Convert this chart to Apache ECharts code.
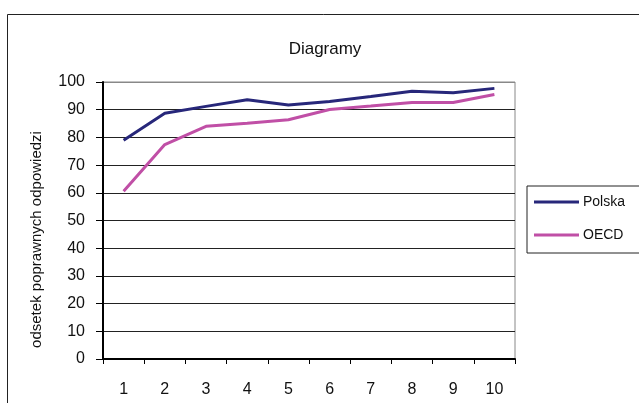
<!DOCTYPE html>
<html><head><meta charset="utf-8">
<script src="https://cdn.jsdelivr.net/npm/echarts@6/dist/echarts.min.js"></script>
<style>html,body{margin:0;padding:0;background:#fff}#c{width:639px;height:403px}</style>
</head><body><div id="c"></div>
<script>
const categories = ['1','2','3','4','5','6','7','8','9','10'];
const polska = [79, 88.7, 91.2, 93.6, 91.7, 93, 94.8, 96.7, 96.1, 97.7];
const oecd = [60.6, 77.4, 84, 85.1, 86.4, 90.1, 91.3, 92.6, 92.6, 95.5];
const seriesNames = ['Polska', 'OECD'];
const yTicks = {min: 0, max: 100, interval: 10};

const font = 'Liberation Sans, Arial, sans-serif';
const chart = echarts.init(document.getElementById('c'), null, {renderer: 'canvas'});
chart.setOption({
  animation: false,
  backgroundColor: '#fff',
  title: {
    text: 'Diagramy', left: 320, top: 36, textAlign: 'center',
    textStyle: {fontFamily: font, fontSize: 17, fontWeight: 'normal', color: '#111'}
  },
  graphic: [{
    type: 'rect', left: 5, top: 12, shape: {width: 700, height: 500},
    style: {fill: 'none', stroke: '#222', lineWidth: 1}, z: -1
  }],
  legend: {
    orient: 'vertical', left: 527, top: 186,
    padding: [9, 40, 11, 7], itemGap: 19,
    itemWidth: 45, itemHeight: 3, icon: 'rect',
    borderColor: '#222', borderWidth: 1,
    textStyle: {fontFamily: font, fontSize: 14, color: '#111', padding: [0, 0, 0, -1]},
    data: seriesNames
  },
  grid: {left: 103, top: 82, width: 412, height: 277, show: true, borderColor: '#888', borderWidth: 1},
  xAxis: {
    type: 'category', data: categories, boundaryGap: true,
    axisLine: {lineStyle: {color: '#000', width: 2}},
    axisTick: {show: true, length: 5, lineStyle: {color: '#000'}},
    axisLabel: {margin: 23, fontFamily: font, fontSize: 16, color: '#111'}
  },
  yAxis: {
    type: 'value', min: yTicks.min, max: yTicks.max, interval: yTicks.interval,
    name: 'odsetek poprawnych odpowiedzi', nameLocation: 'middle', nameGap: 59, nameRotate: 90,
    nameTextStyle: {fontFamily: font, fontSize: 15, color: '#111', padding: [0, 38, 0, 0]},
    axisLine: {show: true, lineStyle: {color: '#000', width: 2}},
    axisTick: {show: true, length: 7, lineStyle: {color: '#000'}},
    axisLabel: {margin: 18, fontFamily: font, fontSize: 16, color: '#111'},
    splitLine: {show: true, lineStyle: {color: ['#000','#222','#222','#222','#222','#222','#222','#222','#222','#222','#888'], width: 1.2}}
  },
  series: [
    {name: seriesNames[0], type: 'line', data: polska, symbol: 'none',
     lineStyle: {color: '#27277a', width: 3}, itemStyle: {color: '#27277a'}},
    {name: seriesNames[1], type: 'line', data: oecd, symbol: 'none',
     lineStyle: {color: '#c04fa6', width: 3}, itemStyle: {color: '#c04fa6'}}
  ]
});
</script></body></html>
